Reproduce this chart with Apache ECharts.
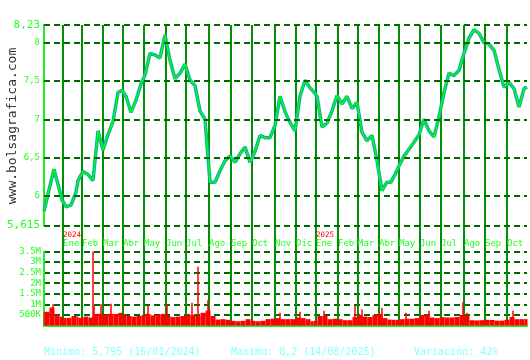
<!DOCTYPE html>
<html><head><meta charset="utf-8">
<script src="https://cdn.jsdelivr.net/npm/echarts@6/dist/echarts.min.js"></script>
<style>html,body{margin:0;padding:0;background:#fff}#c{width:530px;height:360px}</style>
</head><body><div id="c"></div>
<script>
// ---- data ----
const firstSession = '2023-12-01';
const lastSession = '2025-10-29';
const marketHolidays = ['2023-12-25','2023-12-26','2024-01-01','2024-03-29','2024-04-01','2024-05-01',
  '2024-12-25','2024-12-26','2025-01-01','2025-04-18','2025-04-21','2025-05-01'];
const missingSessions = ['2024-01-24','2024-01-25','2024-01-26'];
const monthNames = ['Ene','Feb','Mar','Abr','May','Jun','Jul','Ago','Sep','Oct','Nov','Dic'];

// weekly close (one per calendar week, last session of the week)
const weeklyClose = [
  5.80, 6.08, 6.35, 6.10, 5.95, 5.86, 5.88, 6.05, 6.20, 6.32,
  6.28, 6.20, 6.85, 6.60, 6.80, 6.97, 7.35, 7.38, 7.30, 7.09,
  7.25, 7.46, 7.58, 7.86, 7.84, 7.80, 8.10, 7.77, 7.53, 7.60,
  7.72, 7.51, 7.44, 7.11, 7.00, 6.18, 6.18, 6.33, 6.46, 6.52,
  6.44, 6.55, 6.64, 6.44, 6.58, 6.79, 6.76, 6.76, 6.92, 7.30,
  7.10, 6.96, 6.85, 7.30, 7.51, 7.41, 7.37, 7.30, 6.90, 6.95,
  7.11, 7.31, 7.20, 7.30, 7.14, 7.22, 6.83, 6.72, 6.79, 6.46,
  6.07, 6.18, 6.18, 6.28, 6.39, 6.52, 6.61, 6.70, 6.80, 7.00,
  6.85, 6.77, 7.03, 7.35, 7.60, 7.57, 7.64, 7.86, 8.06, 8.17,
  8.12, 8.00, 7.98, 7.90, 7.65, 7.42, 7.48, 7.40, 7.16, 7.40, 7.42
];
// typical daily volume per week (millions)
const weeklyVolumeM = [
  0.63, 0.65, 0.85, 0.50, 0.42, 0.35, 0.36, 0.45, 0.42, 0.36,
  0.42, 0.38, 0.55, 0.55, 0.50, 0.55, 0.55, 0.60, 0.50, 0.45,
  0.42, 0.45, 0.50, 0.55, 0.48, 0.50, 0.55, 0.45, 0.40, 0.42,
  0.45, 0.50, 0.50, 0.45, 0.60, 0.70, 0.45, 0.28, 0.30, 0.27,
  0.22, 0.20, 0.22, 0.30, 0.22, 0.20, 0.22, 0.30, 0.32, 0.35,
  0.30, 0.30, 0.30, 0.38, 0.35, 0.30, 0.20, 0.22, 0.45, 0.45,
  0.30, 0.32, 0.30, 0.25, 0.25, 0.40, 0.50, 0.42, 0.40, 0.50,
  0.55, 0.35, 0.28, 0.27, 0.27, 0.30, 0.32, 0.32, 0.35, 0.50,
  0.52, 0.38, 0.35, 0.40, 0.38, 0.38, 0.40, 0.50, 0.45, 0.25,
  0.24, 0.25, 0.27, 0.26, 0.23, 0.23, 0.27, 0.40, 0.30, 0.30, 0.30
];
// single-session volume peaks (millions)
const spikeDates = ['2023-12-14','2024-02-16','2024-02-19','2024-02-28','2024-03-13','2024-05-08',
  '2024-06-04','2024-07-09','2024-07-17','2024-07-31','2024-08-01','2024-11-08','2024-12-06',
  '2025-01-14','2025-02-26','2025-03-07','2025-04-04','2025-05-13','2025-06-13','2025-07-31',
  '2025-08-06','2025-10-09'];
const spikeVolumesM = [1.0, 3.5, 0.95, 1.0, 1.03, 0.95, 1.0, 1.08, 2.78, 1.2, 0.76, 0.6, 0.65,
  0.7, 0.92, 0.76, 0.84, 0.6, 0.7, 1.1, 0.6, 0.7];

const priceMin = 5.615, priceMax = 8.23;
const priceTicks = [5.615, 6, 6.5, 7, 7.5, 8, 8.23];
const volumeMaxM = 3.5, volumeStepM = 0.5;
const watermark = 'www.bolsagrafica.com';
const footerTexts = ['Minimo: 5,795 (16/01/2024)', 'Maximo: 8,2 (14/08/2025)', 'Variación: 42%'];

// ---- build sessions ----
const skip = new Set(marketHolidays.concat(missingSessions));
const sessions = [];
for (let d = new Date(firstSession + 'T00:00:00Z'); d <= new Date(lastSession + 'T00:00:00Z'); d.setUTCDate(d.getUTCDate() + 1)) {
  const wd = d.getUTCDay();
  const s = d.toISOString().slice(0, 10);
  if (wd === 0 || wd === 6 || skip.has(s)) continue;
  sessions.push(s);
}
const weeks = [];
let curKey = null;
sessions.forEach((s, i) => {
  const d = new Date(s + 'T00:00:00Z');
  d.setUTCDate(d.getUTCDate() - (d.getUTCDay() - 1));
  const k = d.toISOString().slice(0, 10);
  if (k !== curKey) { weeks.push({ first: i, last: i }); curKey = k; }
  else weeks[weeks.length - 1].last = i;
});
const monthStart = new Set();
sessions.forEach((s, i) => { if (i > 0 && s.slice(0, 7) !== sessions[i - 1].slice(0, 7)) monthStart.add(i); });

const priceData = weeks.map((w, i) => [sessions[w.last], weeklyClose[i]]);
const volData = weeks.map((w, i) => [w.first, w.last, weeklyVolumeM[i]]);
const spikeData = spikeDates.map((d, i) => [d, spikeVolumesM[i]]);

const MONO = '"DejaVu Sans Mono", monospace';
const GREEN_TXT = '#22ff22';
const AXIS_GREEN = '#22ee22';
const DASH = { color: '#006a00', type: [6, 4], width: 2 };

function fmtPrice(v) {
  const s = String(+(+v).toFixed(3)).replace('.', ',');
  const edge = Math.abs(v - priceMin) < 1e-6 || Math.abs(v - priceMax) < 1e-6;
  return edge ? '{big|' + s + '}' : '{sm|' + s + '}';
}
function fmtVol(v) {
  if (v === 0) return '';
  if (v < 1) return Math.round(v * 1000) + 'K';
  return v + 'M';
}

const chart = echarts.init(document.getElementById('c'), null, { renderer: 'canvas' });
chart.setOption({
  animation: false,
  backgroundColor: '#ffffff',
  grid: [
    { left: 44, right: 3, top: 25, bottom: 134.5, outerBoundsMode: 'none' },
    { left: 44, right: 3, top: 251.5, bottom: 34.5, outerBoundsMode: 'none' },
    { left: 44, right: 3, top: 25, bottom: 34, outerBoundsMode: 'none' }
  ],
  xAxis: [
    { gridIndex: 0, type: 'category', data: sessions, boundaryGap: false,
      axisLine: { show: false }, axisTick: { show: false }, splitLine: { show: false },
      axisLabel: {
        interval: (i) => monthStart.has(i), align: 'left', margin: 5, hideOverlap: false,
        formatter: (v) => {
          const m = monthNames[+v.slice(5, 7) - 1];
          return (v.slice(5, 7) === '01' ? '{yr|' + v.slice(0, 4) + '}' : '{yr| }') + '\n{mo|' + m + '}';
        },
        rich: {
          yr: { color: '#ff0000', fontSize: 7.5, lineHeight: 9, fontFamily: MONO },
          mo: { color: GREEN_TXT, fontSize: 9, lineHeight: 9, fontFamily: MONO }
        }
      } },
    { gridIndex: 1, type: 'category', data: sessions, boundaryGap: false,
      axisLine: { show: true, lineStyle: { color: AXIS_GREEN, width: 2 } },
      axisTick: { show: false }, axisLabel: { show: false }, splitLine: { show: false } },
    { gridIndex: 2, type: 'category', data: sessions, boundaryGap: false,
      axisLine: { show: false }, axisTick: { show: false }, axisLabel: { show: false },
      splitLine: { show: true, interval: (i) => monthStart.has(i), lineStyle: { color: '#009000', width: 2 } } }
  ],
  yAxis: [
    { gridIndex: 0, type: 'value', min: priceMin, max: priceMax,
      axisLine: { show: true, lineStyle: { color: AXIS_GREEN, width: 2 } }, axisTick: { show: false },
      splitLine: { show: false }, axisLabel: { show: false } },
    { gridIndex: 1, type: 'value', min: 0, max: volumeMaxM, interval: volumeStepM,
      axisLine: { show: true, lineStyle: { color: AXIS_GREEN, width: 2 } }, axisTick: { show: false },
      splitLine: { show: true, lineStyle: DASH },
      axisLabel: { margin: 3, formatter: fmtVol, color: GREEN_TXT, fontSize: 9, fontFamily: MONO } },
    { gridIndex: 2, type: 'value', show: false }
  ],
  series: [
    { type: 'line', xAxisIndex: 0, yAxisIndex: 0, data: priceData, showSymbol: false,
      lineStyle: { opacity: 0 }, z: 1, silent: true,
      markLine: {
        silent: true, symbol: 'none', precision: 3, animation: false,
        lineStyle: DASH,
        label: { show: true, position: 'start', distance: 4, formatter: (p) => fmtPrice(p.value),
          rich: { big: { color: GREEN_TXT, fontSize: 11, fontFamily: MONO },
                  sm: { color: GREEN_TXT, fontSize: 9, fontFamily: MONO } } },
        data: priceTicks.map((v) => ({ yAxis: v }))
      } },
    { type: 'line', xAxisIndex: 0, yAxisIndex: 0, data: priceData, showSymbol: false,
      lineStyle: { color: '#10a8b8', width: 3.5 }, z: 3 },
    { type: 'line', xAxisIndex: 0, yAxisIndex: 0, data: priceData, showSymbol: false,
      lineStyle: { color: '#00ff00', width: 1.5 }, z: 4 },
    { type: 'custom', xAxisIndex: 1, yAxisIndex: 1, data: volData,
      encode: { x: [0, 1], y: 2 },
      renderItem: (params, api) => {
        const a = api.coord([api.value(0), 0]);
        const b = api.coord([api.value(1), api.value(2)]);
        const half = api.size([1, 0])[0] / 2;
        return { type: 'rect', shape: { x: a[0] - half, y: b[1], width: b[0] - a[0] + 2 * half, height: a[1] - b[1] },
          style: { fill: '#ff0000' } };
      }, z: 3 },
    { type: 'bar', xAxisIndex: 1, yAxisIndex: 1, data: spikeData, barWidth: 1.5,
      itemStyle: { color: '#ff0000' }, z: 4 }
  ],
  graphic: [
    { type: 'text', x: 13, y: 126, rotation: Math.PI / 2,
      style: { text: watermark, font: '13px ' + MONO, fill: '#333333', align: 'center', verticalAlign: 'middle',
               textAlign: 'center', textVerticalAlign: 'middle' } },
    { type: 'text', x: 44, y: 352, style: { text: footerTexts[0], font: '10px ' + MONO, fill: '#88ffff', verticalAlign: 'middle', textVerticalAlign: 'middle' } },
    { type: 'text', x: 231, y: 352, style: { text: footerTexts[1], font: '10px ' + MONO, fill: '#88ffff', verticalAlign: 'middle', textVerticalAlign: 'middle' } },
    { type: 'text', x: 414, y: 352, style: { text: footerTexts[2], font: '10px ' + MONO, fill: '#88ffff', verticalAlign: 'middle', textVerticalAlign: 'middle' } }
  ]
});
</script>
</body></html>
